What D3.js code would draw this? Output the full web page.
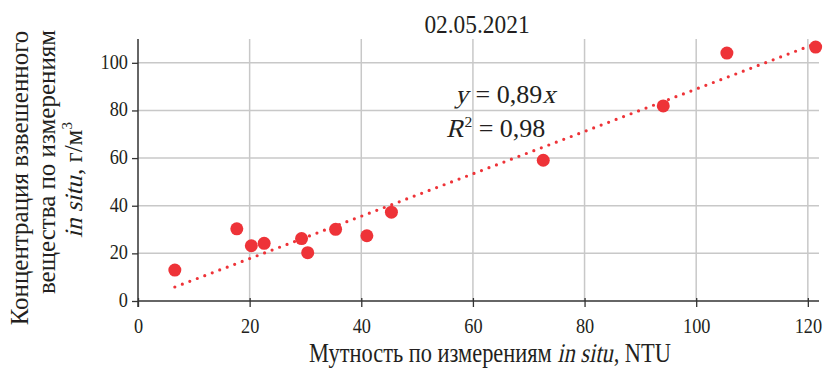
<!DOCTYPE html>
<meta charset="utf-8">
<body style="margin:0;background:#fff">
<svg width="824" height="369"></svg>
<script src="https://cdn.jsdelivr.net/npm/d3@7"></script>
<script>

// measurements in situ, 02.05.2021
var turbidity = [6.6, 17.7, 20.3, 22.6, 29.3, 30.4, 35.4, 41.0, 45.4, 72.6, 94.1, 105.5, 121.4]
var concentration = [13.0, 30.3, 23.2, 24.2, 26.2, 20.3, 30.1, 27.4, 37.3, 59.1, 81.9, 104.1, 106.6]
var xTicks = [0, 20, 40, 60, 80, 100, 120]
var yTicks = [0, 20, 40, 60, 80, 100]
var slope = 0.89
var r2 = '0,98'

var red = '#ee3338'
var ink = '#231f20'
var font = 'Liberation Serif'

var margin = { top: 39, right: 5, bottom: 68, left: 138 }
var width = 824, height = 369

var svg = d3.select('svg').attr('font-family', font)

var x = d3.scaleLinear().domain([0, 122]).range([margin.left, width - margin.right])
var y = d3.scaleLinear().domain([0, 110]).range([height - margin.bottom, margin.top])

// no italic face for the serif here, so italics are slanted by hand
function richText(parent, runs, size, anchor) {
  var g = parent.append('g')
  var pos = 0
  runs.forEach(function (r) {
    var fs = r.sup ? size * 0.6 : size
    var t = g.append('text')
      .attr('font-family', font).attr('font-size', fs).attr('fill', ink)
      .text(r.t.replace(/ /g, '\u00a0'))
    var w = t.node().getComputedTextLength()
    var dy = r.sup ? -size * 0.4 : 0
    t.attr('transform', 'translate(' + pos + ',' + dy + ')' + (r.it ? ' skewX(-14)' : ''))
    pos += w + (r.it ? size * 0.04 : 0)
  })
  var shift = anchor === 'middle' ? -pos / 2 : anchor === 'end' ? -pos : 0
  g.attr('transform', 'translate(' + shift + ',0)')
  return g
}

// grid
var grid = svg.append('g').attr('stroke', '#c8c8c8').attr('stroke-width', 1.5)
grid.selectAll('.v').data(xTicks.slice(1)).enter().append('line')
  .attr('x1', function (d) { return x(d) }).attr('x2', function (d) { return x(d) })
  .attr('y1', y(0)).attr('y2', margin.top)
grid.selectAll('.h').data(yTicks.slice(1)).enter().append('line')
  .attr('x1', x(0)).attr('x2', width - margin.right)
  .attr('y1', function (d) { return y(d) }).attr('y2', function (d) { return y(d) })

// axes
var xAxis = svg.append('g')
  .attr('transform', 'translate(0,' + y(0) + ')')
  .call(d3.axisBottom(x).tickValues(xTicks).tickSize(6).tickSizeOuter(0))
var yAxis = svg.append('g')
  .attr('transform', 'translate(' + x(0) + ',0)')
  .call(d3.axisLeft(y).tickValues(yTicks).tickSize(6).tickSizeOuter(0))

;[xAxis, yAxis].forEach(function (ax) {
  ax.select('.domain').remove()
  ax.selectAll('.tick line').attr('stroke', '#333').attr('stroke-width', 1.3)
  ax.selectAll('.tick text').attr('fill', ink).attr('x', 0).attr('y', 0).attr('dy', 0)
    .attr('font-family', font).attr('font-size', 21)
})
svg.append('line').attr('x1', x(0)).attr('x2', width - margin.right)
  .attr('y1', y(0)).attr('y2', y(0)).attr('stroke', '#333').attr('stroke-width', 1.5)
svg.append('line').attr('x1', x(0)).attr('x2', x(0))
  .attr('y1', y(0) + 6).attr('y2', margin.top).attr('stroke', '#333').attr('stroke-width', 1.5)

// the reference type is a narrow Times, so labels are squeezed a little
xAxis.selectAll('.tick line').attr('y1', -3)
xAxis.selectAll('.tick text').attr('transform', 'translate(0,32) scale(0.87,1)')
yAxis.selectAll('.tick text').attr('transform', 'translate(-10,5.5) scale(0.87,1)')

// trend line y = 0.89x
var xExt = d3.extent(turbidity)
svg.append('line')
  .attr('x1', x(xExt[0])).attr('y1', y(slope * xExt[0]))
  .attr('x2', x(xExt[1])).attr('y2', y(slope * xExt[1]))
  .attr('stroke', red).attr('stroke-width', 3.2)
  .attr('stroke-linecap', 'round').attr('stroke-dasharray', '0 8')

// points
svg.append('g').selectAll('circle')
  .data(turbidity).enter().append('circle')
  .attr('cx', function (d) { return x(d) })
  .attr('cy', function (d, i) { return y(concentration[i]) })
  .attr('r', 6.5)
  .attr('fill', red)

// title
svg.append('text').attr('transform', 'translate(477,33) scale(0.9,1)')
  .attr('text-anchor', 'middle').attr('fill', ink)
  .attr('font-size', 26).text('02.05.2021')

// equation
var eq1 = svg.append('g').attr('transform', 'translate(455,103)')
richText(eq1, [{ t: 'y', it: true }, { t: ' = 0,' + String(slope).split('.')[1] }, { t: 'x', it: true }], 26, 'start')
var eq2 = svg.append('g').attr('transform', 'translate(446,137)')
richText(eq2, [{ t: 'R', it: true }, { t: '2', sup: true }, { t: ' = ' + r2 }], 26, 'start')

// x label
var xl = svg.append('g').attr('transform', 'translate(490,362) scale(0.83,1)')
richText(xl, [{ t: 'Мутность по измерениям ' }, { t: 'in situ', it: true }, { t: ', NTU' }], 27, 'middle')

// y label, three lines
svg.append('text').attr('transform', 'translate(28,178) rotate(-90)')
  .attr('text-anchor', 'middle').attr('fill', ink).attr('font-size', 25)
  .text('Концентрация взвешенного')
svg.append('text').attr('transform', 'translate(55,162) rotate(-90)')
  .attr('text-anchor', 'middle').attr('fill', ink).attr('font-size', 25)
  .text('вещества по измерениям')
var yl3 = svg.append('g').attr('transform', 'translate(82,180) rotate(-90)')
richText(yl3, [{ t: 'in situ', it: true }, { t: ', г/м' }, { t: '3', sup: true }], 25, 'middle')

</script>
